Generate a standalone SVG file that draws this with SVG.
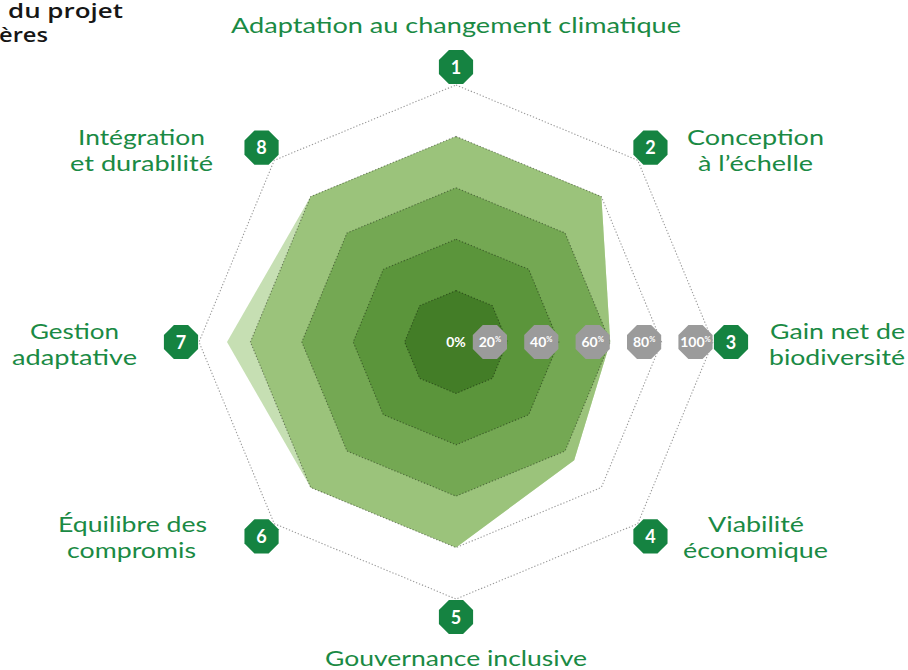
<svg xmlns="http://www.w3.org/2000/svg" xmlns:xlink="http://www.w3.org/1999/xlink" width="908" height="670" viewBox="0 0 908 670">
<defs>
<style>
.lbl{font-family:Lato,"Liberation Sans",sans-serif;font-size:21.5px;fill:#1a8a44;text-anchor:middle}
.ttl{font-family:"Open Sans","Liberation Sans",sans-serif;font-size:20px;font-weight:600;fill:#161616}
.num{font-family:Lato,"Liberation Sans",sans-serif;font-size:18px;font-weight:700;fill:#fff;text-anchor:middle}
.pct{font-family:Lato,"Liberation Sans",sans-serif;font-size:14px;font-weight:700;fill:#fff;text-anchor:middle}
.sup{font-size:7.5px}
.grid{fill:none;stroke:#000;stroke-opacity:0.4;stroke-width:1.1;stroke-dasharray:1.3 1.9}
.badge{fill:#158341}
.gbadge{fill:#9b9b9b}
</style>
<polygon id="oct" points="17.09,-7.08 17.09,7.08 7.08,17.09 -7.08,17.09 -17.09,7.08 -17.09,-7.08 -7.08,-17.09 7.08,-17.09"/>
</defs>
<rect width="908" height="670" fill="#fff"/>

<g id="title">
<text class="ttl" x="8" y="17.5" textLength="115" lengthAdjust="spacingAndGlyphs">du projet</text>
<text class="ttl" x="-1" y="42" textLength="49" lengthAdjust="spacingAndGlyphs">ères</text>
</g>

<g id="fills">
<polygon fill="#c6dfb3" points="456,136.4 601.38,196.62 610.2,342 574.16,460.16 456,547.6 310.62,487.38 227,342 310.62,196.62"/>
<polygon fill="#9bc37b" points="456,136.4 601.38,196.62 610.2,342 574.16,460.16 456,547.6 310.62,487.38 250.4,342 310.62,196.62"/>
<polygon fill="#74a853" points="456,187.8 565.04,232.96 610.2,342 565.04,451.04 456,496.2 346.96,451.04 301.8,342 346.96,232.96"/>
<polygon fill="#5b953b" points="456,239.2 528.69,269.31 558.8,342 528.69,414.69 456,444.8 383.31,414.69 353.2,342 383.31,269.31"/>
<polygon fill="#437d27" points="456,290.6 492.35,305.65 507.4,342 492.35,378.35 456,393.4 419.65,378.35 404.6,342 419.65,305.65"/>
</g>

<g id="connectors">
<polygon class="grid" points="456,290.6 492.35,305.65 507.4,342 492.35,378.35 456,393.4 419.65,378.35 404.6,342 419.65,305.65"/>
<polygon class="grid" points="456,239.2 528.69,269.31 558.8,342 528.69,414.69 456,444.8 383.31,414.69 353.2,342 383.31,269.31"/>
<polygon class="grid" points="456,187.8 565.04,232.96 610.2,342 565.04,451.04 456,496.2 346.96,451.04 301.8,342 346.96,232.96"/>
<polygon class="grid" points="456,136.4 601.38,196.62 661.6,342 601.38,487.38 456,547.6 310.62,487.38 250.4,342 310.62,196.62"/>
<polygon class="grid" points="456,85 637.73,160.27 713,342 637.73,523.73 456,599 274.27,523.73 199,342 274.27,160.27"/>
</g>

<g id="scale">
<text class="pct" x="456" y="347">0%</text>
<g id="p20"><use xlink:href="#oct" class="gbadge" x="489.9" y="342"/><text class="pct" x="489.9" y="347">20<tspan class="sup" dy="-5">%</tspan></text></g>
<g id="p40"><use xlink:href="#oct" class="gbadge" x="541.3" y="342"/><text class="pct" x="541.3" y="347">40<tspan class="sup" dy="-5">%</tspan></text></g>
<g id="p60"><use xlink:href="#oct" class="gbadge" x="592.7" y="342"/><text class="pct" x="592.7" y="347">60<tspan class="sup" dy="-5">%</tspan></text></g>
<g id="p80"><use xlink:href="#oct" class="gbadge" x="644.1" y="342"/><text class="pct" x="644.1" y="347">80<tspan class="sup" dy="-5">%</tspan></text></g>
<g id="p100"><use xlink:href="#oct" class="gbadge" x="695.5" y="342"/><text class="pct" x="695.5" y="346.7" font-size="12.5">100<tspan class="sup" dy="-4.5">%</tspan></text></g>
</g>

<g id="n1"><use xlink:href="#oct" class="badge" x="456" y="67"/><text class="num" x="456" y="73.5">1</text>
<text class="lbl" x="456" y="33" textLength="450" lengthAdjust="spacingAndGlyphs">Adaptation au changement climatique</text></g>

<g id="n2"><use xlink:href="#oct" class="badge" x="650.45" y="147.55"/><text class="num" x="650.45" y="154">2</text>
<text class="lbl" x="755.5" y="145" textLength="137" lengthAdjust="spacingAndGlyphs">Conception</text>
<text class="lbl" x="755.5" y="171" textLength="115" lengthAdjust="spacingAndGlyphs">à l’échelle</text></g>

<g id="n3"><use xlink:href="#oct" class="badge" x="731" y="342"/><text class="num" x="731" y="348.5">3</text>
<text class="lbl" x="837.5" y="339" textLength="135" lengthAdjust="spacingAndGlyphs">Gain net de</text>
<text class="lbl" x="837" y="365" textLength="136" lengthAdjust="spacingAndGlyphs">biodiversité</text></g>

<g id="n4"><use xlink:href="#oct" class="badge" x="650.45" y="536.45"/><text class="num" x="650.45" y="543">4</text>
<text class="lbl" x="756" y="532" textLength="96" lengthAdjust="spacingAndGlyphs">Viabilité</text>
<text class="lbl" x="755.5" y="558" textLength="145" lengthAdjust="spacingAndGlyphs">économique</text></g>

<g id="n5"><use xlink:href="#oct" class="badge" x="456" y="617"/><text class="num" x="456" y="623.5">5</text>
<text class="lbl" x="456" y="665.5" textLength="262" lengthAdjust="spacingAndGlyphs">Gouvernance inclusive</text></g>

<g id="n6"><use xlink:href="#oct" class="badge" x="261.55" y="536.45"/><text class="num" x="261.55" y="543">6</text>
<text class="lbl" x="132.5" y="532" textLength="149" lengthAdjust="spacingAndGlyphs">Équilibre des</text>
<text class="lbl" x="131.5" y="558" textLength="129" lengthAdjust="spacingAndGlyphs">compromis</text></g>

<g id="n7"><use xlink:href="#oct" class="badge" x="181" y="342"/><text class="num" x="181" y="348.5">7</text>
<text class="lbl" x="74.5" y="339" textLength="89" lengthAdjust="spacingAndGlyphs">Gestion</text>
<text class="lbl" x="74.5" y="365" textLength="125" lengthAdjust="spacingAndGlyphs">adaptative</text></g>

<g id="n8"><use xlink:href="#oct" class="badge" x="261.55" y="147.55"/><text class="num" x="261.55" y="154">8</text>
<text class="lbl" x="141.5" y="145" textLength="127" lengthAdjust="spacingAndGlyphs">Intégration</text>
<text class="lbl" x="141.5" y="171" textLength="143" lengthAdjust="spacingAndGlyphs">et durabilité</text></g>
</svg>
